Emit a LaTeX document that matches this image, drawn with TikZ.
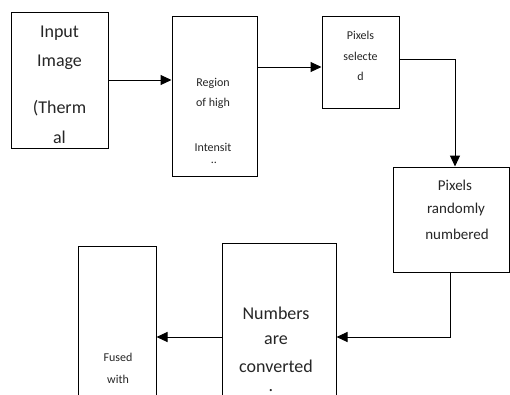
\documentclass[tikz,border=0pt]{standalone}
\usepackage{fontspec}
\setmainfont{Carlito}
\usetikzlibrary{arrows.meta}
\tikzset{
  box/.style={draw=black, line width=1pt, rectangle, inner sep=0pt},
  conn/.style={draw=black, line width=1pt, -{Triangle[length=11pt,width=10pt]}},
  big/.style={font=\fontsize{18}{20}\selectfont, inner sep=0pt, text=black!85},
  mid/.style={font=\fontsize{15}{17}\selectfont, inner sep=0pt, text=black!85},
  sml/.style={font=\fontsize{12}{14}\selectfont, inner sep=0pt, text=black!85},
}
\begin{document}
\begin{tikzpicture}[x=1pt,y=-1pt]
\clip (0,0) rectangle (510,394);
\fill[white] (0,0) rectangle (510,394);
% boxes
\node[box, minimum width=97pt, minimum height=136pt] (b1) at (59.5,80) {};
\node[box, minimum width=85pt, minimum height=160pt] (b2) at (214.5,96) {};
\node[box, minimum width=77pt, minimum height=92pt] (b3) at (360.5,62) {};
\node[box, minimum width=116pt, minimum height=105pt] (b4) at (451,219.5) {};
\node[box, minimum width=114pt, minimum height=177pt] (b5) at (279,331.5) {};
\node[box, minimum width=78pt, minimum height=174pt] (b6) at (117,333) {};
% texts box 1
\node[big] (t11) at (59.5,33) {Input};
\node[big] (t12) at (59.5,62) {Image};
\node[big] (t13) at (59.5,108) {(Therm};
\node[big] (t14) at (59.5,137) {al};
% box 2
\node[sml] (t21) at (213,83) {Region};
\node[sml] (t22) at (213,103) {of high};
\node[sml] (t23) at (213,147) {Intensit};
\node[sml] (t24) at (214,163) {..};
% box 3
\node[sml] (t31) at (360.5,35) {Pixels};
\node[sml] (t32) at (360.5,56) {selecte};
\node[sml] (t33) at (360.5,76) {d};
% box 4
\node[mid] (t41) at (455,185) {Pixels};
\node[mid] (t42) at (456,209) {randomly};
\node[mid] (t43) at (457,234) {numbered};
% box 5
\node[big] (t51) at (276,313) {Numbers};
\node[big] (t52) at (276,340) {are};
\node[big] (t53) at (276,366) {converted};
\node[big, text height=2pt, text depth=0pt] (t54) at (271,390) {.};
% box 6
\node[sml] (t61) at (118,357) {Fused};
\node[sml] (t62) at (118,379) {with};
% connectors
\draw[conn] (b1.east |- 0,80) -- (b2.west |- 0,80);
\draw[conn] (b2.east |- 0,67) -- (b3.west |- 0,67);
\draw[conn] (b3.east |- 0,59) -| (b4.north -| 455,0);
\draw[conn] (b4.south -| 450,0) |- (b5.east |- 0,337);
\draw[conn] (b5.west |- 0,337) -- (b6.east |- 0,337);
\end{tikzpicture}
\end{document}
